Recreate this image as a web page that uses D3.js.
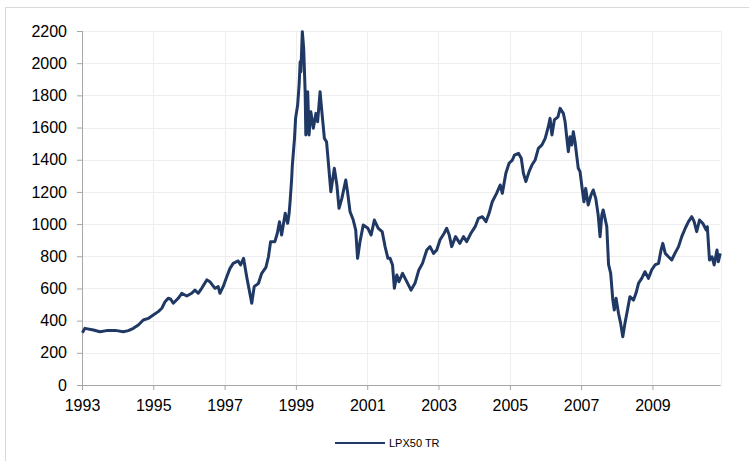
<!DOCTYPE html>
<html>
<head>
<meta charset="utf-8">
<script src="https://cdn.jsdelivr.net/npm/d3@7"></script>
<style>
  body { margin: 0; background: #fff; }
  svg { display: block; font-family: "Liberation Sans", Arial, sans-serif; }
</style>
</head>
<body>
<script>
// series: decimal year + index level
const seriesName = 'LPX50 TR';

const years = [
  1993.01, 1993.08, 1993.32, 1993.50, 1993.69, 1993.97, 1994.16, 1994.30, 1994.44, 1994.58,
  1994.72, 1994.86, 1995.00, 1995.14, 1995.24, 1995.33, 1995.42, 1995.49, 1995.56, 1995.70,
  1995.80, 1995.94, 1996.08, 1996.17, 1996.26, 1996.36, 1996.50, 1996.59, 1996.73, 1996.82,
  1996.87, 1996.96, 1997.06, 1997.15, 1997.24, 1997.38, 1997.45, 1997.53, 1997.62, 1997.69,
  1997.76, 1997.83, 1997.95, 1998.04, 1998.16, 1998.23, 1998.29, 1998.41, 1998.48, 1998.54,
  1998.60, 1998.70, 1998.77, 1998.81, 1998.84, 1998.88, 1998.90, 1998.96, 1998.99, 1999.05,
  1999.09, 1999.12, 1999.14, 1999.18, 1999.22, 1999.26, 1999.28, 1999.33, 1999.37, 1999.42,
  1999.49, 1999.56, 1999.61, 1999.68, 1999.72, 1999.80, 1999.86, 1999.91, 1999.98, 2000.08,
  2000.15, 2000.21, 2000.29, 2000.40, 2000.45, 2000.52, 2000.61, 2000.68, 2000.73, 2000.80,
  2000.89, 2001.02, 2001.11, 2001.20, 2001.31, 2001.42, 2001.50, 2001.58, 2001.64, 2001.71,
  2001.76, 2001.83, 2001.89, 2001.99, 2002.11, 2002.23, 2002.34, 2002.45, 2002.55, 2002.67,
  2002.76, 2002.86, 2002.95, 2003.04, 2003.16, 2003.23, 2003.30, 2003.37, 2003.48, 2003.60,
  2003.70, 2003.79, 2003.91, 2004.03, 2004.12, 2004.23, 2004.33, 2004.42, 2004.51, 2004.63,
  2004.73, 2004.79, 2004.89, 2004.98, 2005.07, 2005.13, 2005.24, 2005.32, 2005.38, 2005.45,
  2005.54, 2005.62, 2005.71, 2005.80, 2005.90, 2005.99, 2006.08, 2006.13, 2006.18, 2006.25,
  2006.35, 2006.41, 2006.50, 2006.55, 2006.60, 2006.64, 2006.69, 2006.74, 2006.78, 2006.83,
  2006.88, 2006.92, 2006.97, 2007.04, 2007.08, 2007.13, 2007.20, 2007.28, 2007.34, 2007.41,
  2007.48, 2007.53, 2007.58, 2007.62, 2007.72, 2007.77, 2007.83, 2007.89, 2007.93, 2007.98,
  2008.05, 2008.11, 2008.17, 2008.23, 2008.30, 2008.37, 2008.47, 2008.54, 2008.61, 2008.70,
  2008.79, 2008.89, 2008.98, 2009.07, 2009.17, 2009.24, 2009.29, 2009.36, 2009.45, 2009.54,
  2009.63, 2009.73, 2009.82, 2009.92, 2010.01, 2010.10, 2010.17, 2010.24, 2010.32, 2010.41,
  2010.51, 2010.54, 2010.60, 2010.67, 2010.73, 2010.81, 2010.85, 2010.90
];

const values = [
  325, 352, 342, 331, 338, 338, 331, 338, 352, 373,
  404, 414, 435, 456, 477, 518, 539, 533, 508, 539,
  570, 553, 570, 590, 570, 601, 653, 642, 601, 611,
  570, 611, 673, 725, 756, 771, 746, 787, 673, 590,
  508, 611, 632, 694, 731, 797, 891, 891, 943, 1015,
  932, 1067, 1005, 1067, 1150, 1274, 1367, 1533, 1657, 1740,
  1864, 2009, 1947, 2196, 2092, 1823, 1554, 1823, 1554, 1698,
  1595, 1688, 1636, 1823, 1719, 1533, 1512, 1388, 1201, 1347,
  1243, 1098, 1160, 1274, 1201, 1077, 1025, 963, 787, 891,
  994, 974, 932, 1025, 974, 953, 860, 787, 787, 746,
  601, 684, 642, 694, 642, 590, 632, 715, 756, 839,
  860, 818, 839, 901, 943, 974, 932, 860, 922, 880,
  922, 891, 943, 984, 1036, 1046, 1015, 1067, 1139, 1191,
  1243, 1191, 1316, 1378, 1398, 1429, 1440, 1409, 1316, 1264,
  1326, 1367, 1398, 1471, 1492, 1533, 1605, 1657, 1554, 1647,
  1667, 1719, 1688, 1636, 1533, 1450, 1543, 1492, 1574, 1512,
  1419, 1347, 1326, 1201, 1139, 1222, 1119, 1181, 1212, 1160,
  1056, 922, 1056, 1088, 984, 750, 694, 528, 466, 539,
  446, 383, 300, 383, 466, 549, 528, 570, 632, 663,
  704, 663, 715, 746, 756, 839, 880, 818, 797, 777,
  818, 860, 922, 974, 1015, 1046, 1015, 953, 1025, 1005,
  963, 984, 777, 797, 746, 839, 766, 818
];

const xTickYears = [1993, 1995, 1997, 1999, 2001, 2003, 2005, 2007, 2009];
const yTicks = [0, 200, 400, 600, 800, 1000, 1200, 1400, 1600, 1800, 2000, 2200];

function toDate(y) {
  const yr = Math.floor(y);
  const frac = y - yr;
  return new Date(yr, 0, 1 + Math.round(frac * 365.25));
}

const data = years.map((y, i) => ({ date: toDate(y), value: values[i] }));

const width = 749;
const height = 461;
const margin = { top: 31, right: 28.3, bottom: 76, left: 82 };
const innerW = width - margin.left - margin.right;
const innerH = height - margin.top - margin.bottom;

const svg = d3.select('body').append('svg')
  .attr('width', width)
  .attr('height', height);

// outer chart frame (only top/left edges are visible in the window)
svg.append('rect')
  .attr('x', 5.5)
  .attr('y', 7.5)
  .attr('width', 800)
  .attr('height', 500)
  .attr('fill', 'none')
  .attr('stroke', '#d9d9d9');

const g = svg.append('g')
  .attr('transform', `translate(${margin.left},${margin.top})`);

const x = d3.scaleTime()
  .domain([new Date(1993, 0, 1), new Date(2010, 11, 1)])
  .range([0, innerW]);

const y = d3.scaleLinear()
  .domain([0, 2200])
  .range([innerH, 0]);

const xTicks = xTickYears.map(yr => new Date(yr, 0, 1));

// gridlines
g.append('g')
  .selectAll('line.hgrid')
  .data(yTicks.slice(1))
  .enter().append('line')
  .attr('x1', 0)
  .attr('x2', innerW)
  .attr('y1', d => Math.round(y(d)) + 0.5)
  .attr('y2', d => Math.round(y(d)) + 0.5)
  .attr('stroke', '#eeeeee');

g.append('g')
  .selectAll('line.vgrid')
  .data(xTicks.slice(1).concat([x.domain()[1]]))
  .enter().append('line')
  .attr('x1', d => Math.round(x(d)) + 0.5)
  .attr('x2', d => Math.round(x(d)) + 0.5)
  .attr('y1', 0)
  .attr('y2', innerH)
  .attr('stroke', '#eeeeee');

// axes
const yAxis = g.append('g')
  .call(d3.axisLeft(y).tickValues(yTicks).tickSize(5).tickPadding(10).tickFormat(d3.format('d')));

const xAxis = g.append('g')
  .attr('transform', `translate(0,${innerH})`)
  .call(d3.axisBottom(x).tickValues(xTicks).tickSize(5).tickPadding(10).tickFormat(d3.timeFormat('%Y')));

[yAxis, xAxis].forEach(ax => {
  ax.selectAll('.domain').attr('stroke', '#a6a6a6');
  ax.selectAll('.tick line').attr('stroke', '#a6a6a6');
  ax.selectAll('.tick text')
    .attr('fill', '#000')
    .style('font-size', '16px')
    .style('font-family', '"Liberation Sans", Arial, sans-serif');
});
xAxis.select('.domain').attr('d', `M0,0.5H${innerW}`);
yAxis.select('.domain').attr('d', `M0.5,0V${innerH}`);

// the index line (drawn a bit heavy, the original is noisy daily data)
const line = d3.line()
  .x(d => x(d.date))
  .y(d => y(d.value));

g.append('path')
  .datum(data)
  .attr('fill', 'none')
  .attr('stroke', '#1f3864')
  .attr('stroke-width', 3)
  .attr('stroke-linejoin', 'round')
  .attr('d', line);

// legend
const legend = svg.append('g')
  .attr('transform', 'translate(335,443)');

legend.append('line')
  .attr('x1', 0)
  .attr('x2', 50)
  .attr('y1', 0)
  .attr('y2', 0)
  .attr('stroke', '#1f3864')
  .attr('stroke-width', 2.2);

legend.append('text')
  .attr('x', 54)
  .attr('y', 0)
  .attr('dy', '0.35em')
  .style('font-size', '11px')
  .attr('fill', '#000')
  .text(seriesName);
</script>
</body>
</html>
